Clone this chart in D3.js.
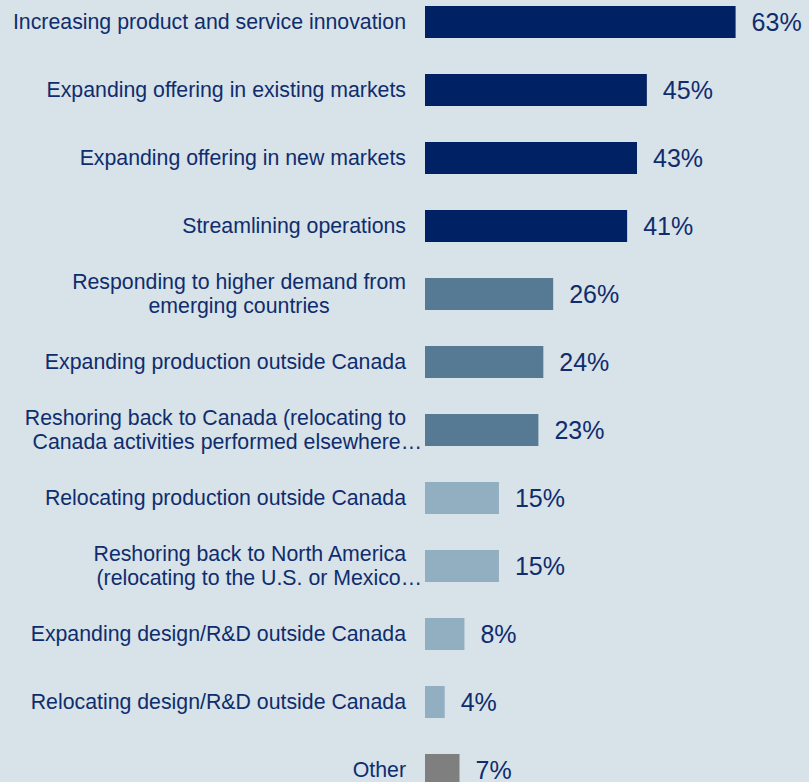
<!DOCTYPE html>
<html>
<head>
<meta charset="utf-8">
<script src="https://cdn.jsdelivr.net/npm/d3@7"></script>
<style>
  html, body { margin: 0; padding: 0; background: #d8e2e9; }
  svg { display: block; }
</style>
</head>
<body>
<script>
// Survey responses: strategic priorities, share of respondents (%)
const categories = [
  "Increasing product and service innovation",
  "Expanding offering in existing markets",
  "Expanding offering in new markets",
  "Streamlining operations",
  "Responding to higher demand from emerging countries",
  "Expanding production outside Canada",
  "Reshoring back to Canada (relocating to Canada activities performed elsewhere…",
  "Relocating production outside Canada",
  "Reshoring back to North America (relocating to the U.S. or Mexico…",
  "Expanding design/R&D outside Canada",
  "Relocating design/R&D outside Canada",
  "Other"
];
// Wrapped lines for each category label
const labelLines = [
  ["Increasing product and service innovation"],
  ["Expanding offering in existing markets"],
  ["Expanding offering in new markets"],
  ["Streamlining operations"],
  ["Responding to higher demand from", "emerging countries"],
  ["Expanding production outside Canada"],
  ["Reshoring back to Canada (relocating to", "Canada activities performed elsewhere…"],
  ["Relocating production outside Canada"],
  ["Reshoring back to North America", "(relocating to the U.S. or Mexico…"],
  ["Expanding design/R&D outside Canada"],
  ["Relocating design/R&D outside Canada"],
  ["Other"]
];
const values = [63, 45, 43, 41, 26, 24, 23, 15, 15, 8, 4, 7];
const tiers  = ["high", "high", "high", "high", "mid", "mid", "mid", "low", "low", "low", "low", "other"];

const tierColor = { high: "#002163", mid: "#567a93", low: "#92afc1", other: "#7f7f7f" };
const textColor = "#0f2d6d";

const W = 809, H = 782;
const labelRight = 406;
const labelFont = 21.3, valueFont = 25, lineGap = 24;
const barH = 32;

const svg = d3.select("body").append("svg")
  .attr("width", W).attr("height", H)
  .style("font-family", "Arial, 'Liberation Sans', sans-serif");

svg.append("rect").attr("width", W).attr("height", H).attr("fill", "#d8e2e9");

const y = d3.scalePoint().domain(categories).range([22, 770]);
const x = d3.scaleLinear().domain([0, 100]).range([425, 918]);

const rows = categories.map((c, i) => ({ c, v: values[i], t: tiers[i], lines: labelLines[i] }));

// bars
svg.append("g").selectAll("rect").data(rows).join("rect")
  .attr("x", x(0))
  .attr("y", d => y(d.c) - barH / 2)
  .attr("width", d => x(d.v) - x(0))
  .attr("height", barH)
  .attr("fill", d => tierColor[d.t]);

// value labels
svg.append("g").selectAll("text").data(rows).join("text")
  .attr("x", d => x(d.v) + 16)
  .attr("y", d => y(d.c) + valueFont * 0.36)
  .attr("fill", textColor)
  .attr("font-size", valueFont)
  .text(d => d.v + "%");

// category labels: lines centred on each other, block right-aligned;
// a truncated line overhangs by its ellipsis
const lg = svg.append("g").attr("font-size", labelFont).attr("fill", textColor);
rows.forEach(d => {
  const n = d.lines.length;
  const g = lg.append("g");
  const texts = d.lines.map((ln, k) => g.append("text")
    .attr("y", y(d.c) + labelFont * 0.35 + (k - (n - 1) / 2) * lineGap)
    .text(ln));
  const full = texts.filter((t, k) => !d.lines[k].endsWith("…"));
  const blockW = d3.max(full, t => t.node().getComputedTextLength());
  const cx = labelRight - blockW / 2;
  texts.forEach((t, k) => {
    if (d.lines[k].endsWith("…")) {
      t.attr("text-anchor", "end").attr("x", labelRight + 16);
    } else {
      t.attr("text-anchor", "middle").attr("x", cx);
    }
  });
});
</script>
</body>
</html>
